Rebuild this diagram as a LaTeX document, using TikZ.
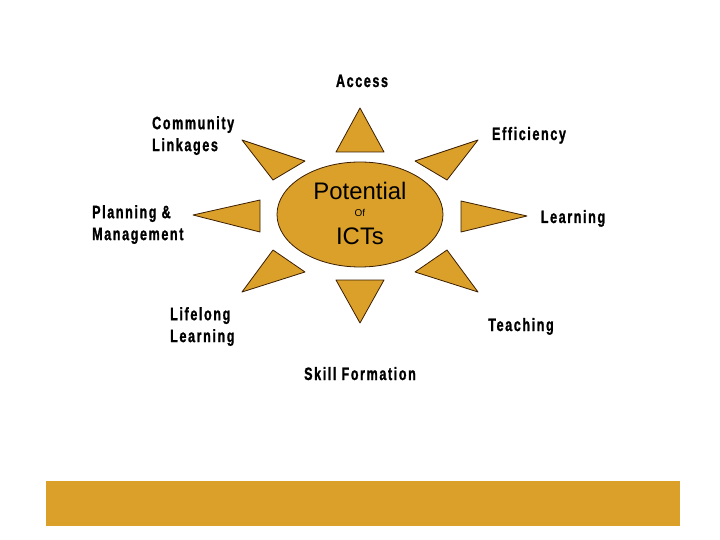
\documentclass[tikz,border=0pt]{standalone}
\usepackage{fontspec}
\setmainfont{Liberation Sans}
\newfontfamily\lblfont{Liberation Sans Bold}[FakeStretch=0.7,LetterSpace=9,FakeBold=1.2]
\usetikzlibrary{shapes.geometric}
\definecolor{gold}{RGB}{218,160,42}
\definecolor{edge}{RGB}{60,30,0}
\begin{document}
\begin{tikzpicture}[x=1bp,y=-1bp,
  ray/.style={fill=gold,draw=edge,line width=0.8bp,line join=round},
  lbl/.style={inner sep=0pt,font=\lblfont\fontsize{18}{22}\selectfont,align=left},
  ctr/.style={inner sep=0pt,text=black}]
\useasboundingbox (0,0) rectangle (720,540);
% rays
\draw[ray] (336,152) -- (384,152) -- (360,108) -- cycle;
\draw[ray] (336,280) -- (384,280) -- (360,323) -- cycle;
\draw[ray] (242,140) -- (305,161) -- (273,180) -- cycle;
\draw[ray] (478,140) -- (415,161) -- (447,180) -- cycle;
\draw[ray] (193,215) -- (260,200) -- (260,232) -- cycle;
\draw[ray] (527,216) -- (461,201) -- (461,232) -- cycle;
\draw[ray] (273,250) -- (305,272) -- (242,292) -- cycle;
\draw[ray] (447,250) -- (415,272) -- (478,292) -- cycle;
% centre
\node[ellipse,draw=edge,fill=gold,line width=0.8bp,minimum width=166bp,minimum height=105bp,inner sep=0pt] (core) at (360,214.5) {};
\node[ctr,anchor=base,font=\fontsize{24}{24}\selectfont] (pot) at (360,200) {Potential};
\node[ctr,anchor=base,font=\fontsize{10}{10}\selectfont] (of) at (360,217) {Of};
\node[ctr,anchor=base,font=\fontsize{24}{24}\selectfont] (icts) at (360,245) {ICTs};
% labels
\node[lbl,anchor=base] (access) at (362,87) {Access};
\node[lbl,anchor=north west] (comm) at (152,116) {Community\\Linkages};
\node[lbl,anchor=base] (eff) at (529,140) {Efficiency};
\node[lbl,anchor=north west] (plan) at (92,205) {Planning \&\\Management};
\node[lbl,anchor=base] (learn) at (573,223) {Learning};
\node[lbl,anchor=north west] (life) at (170,307) {Lifelong\\Learning};
\node[lbl,anchor=base] (teach) at (521,331) {Teaching};
\node[lbl,anchor=base] (skill) at (360,380) {Skill Formation};
% bottom bar
\fill[gold] (46,481) rectangle (680,526);
\end{tikzpicture}
\end{document}
